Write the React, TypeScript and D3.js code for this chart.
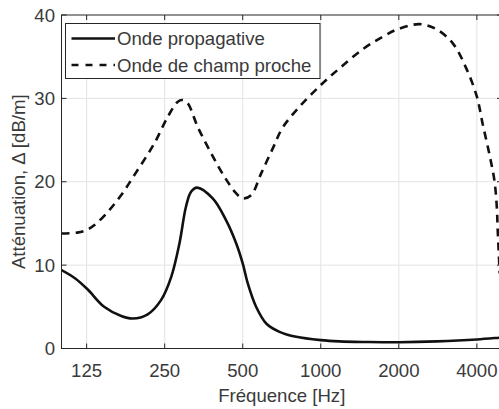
import React from "react";
import * as d3 from "d3";

const xTicks = [125, 250, 500, 1000, 2000, 4000];
const yTicks = [0, 10, 20, 30, 40];

const propFreq = [100, 113, 126, 146, 170, 188, 215, 242, 265, 285, 302, 316, 333, 383, 431, 472, 500, 523, 563, 616, 693, 804, 1000, 1181, 1500, 2000, 2800, 4000, 4900, 5000];
const propVal = [9.4, 8.4, 7.1, 5.0, 3.9, 3.6, 4.1, 5.8, 8.6, 12.6, 17.0, 18.8, 19.3, 18.0, 15.4, 12.6, 10.2, 7.8, 5.0, 3.0, 2.0, 1.4, 1.0, 0.85, 0.78, 0.75, 0.85, 1.08, 1.3, 1.32];

const nearFreq = [100, 115, 125, 134, 151, 170, 191, 228, 257, 281, 293, 307, 335, 378, 425, 472, 500, 539, 589, 653, 713, 828, 1000, 1181, 1452, 1735, 1983, 2404, 2789, 3231, 3640, 4000, 4220, 4478, 4681, 4778, 4810, 4900];
const nearVal = [13.8, 13.9, 14.2, 14.8, 16.4, 18.4, 20.8, 24.6, 27.8, 29.6, 29.8, 29.4, 26.6, 23.4, 20.6, 18.6, 18.0, 18.4, 21.0, 24.0, 26.5, 29.0, 31.6, 33.6, 35.9, 37.4, 38.3, 38.9, 38.3, 36.6, 33.6, 30.2, 26.8, 23.2, 20.0, 16.8, 14.4, 9];

const seriesNames = ["Onde propagative", "Onde de champ proche"];

const W = 499, H = 409;
const L = 61.5, R = 502, T = 15, B = 348.5;
const AX = "#262626";
const TXT = "#3a3a3a";
const FONT = "'Liberation Sans', Arial, Helvetica, sans-serif";
const FS = 18.6;

export default function App() {
  const x = d3.scaleLog().domain([100, 5000]).range([L, R]);
  const y = d3.scaleLinear().domain([0, 40]).range([B, T]);
  const line = d3.line<[number, number]>()
    .x(d => x(d[0]))
    .y(d => y(d[1]))
    .curve(d3.curveCatmullRom.alpha(0.5));
  const propPath = line(propFreq.map((f, i) => [f, propVal[i]] as [number, number])) || "";
  const nearPath = line(nearFreq.map((f, i) => [f, nearVal[i]] as [number, number])) || "";
  const tl = 5;

  return (
    <svg width={W} height={H} style={{ position: "absolute", left: 0, top: 0, display: "block", background: "#fff" }} fontFamily={FONT}>
      <defs>
        <clipPath id="plot">
          <rect x={L} y={T} width={R - L} height={B - T} />
        </clipPath>
      </defs>
      <rect x={0} y={0} width={W} height={H} fill="#fff" />
      <g stroke="#e3e3e3" strokeWidth={1}>
        {xTicks.map(t => (
          <line key={"gx" + t} x1={x(t)} x2={x(t)} y1={T} y2={B} />
        ))}
        {yTicks.filter(t => t > 0 && t < 40).map(t => (
          <line key={"gy" + t} x1={L} x2={R} y1={y(t)} y2={y(t)} />
        ))}
      </g>
      <g clipPath="url(#plot)" fill="none" stroke="#111" strokeWidth={2.6} strokeLinejoin="round">
        <path d={propPath} />
        <path d={nearPath} strokeDasharray="8,6" />
      </g>
      <g stroke={AX} strokeWidth={1} fill="none">
        <rect x={L} y={T} width={R - L} height={B - T} />
        {xTicks.map(t => (
          <g key={"tx" + t}>
            <line x1={x(t)} x2={x(t)} y1={B} y2={B - tl} />
            <line x1={x(t)} x2={x(t)} y1={T} y2={T + tl} />
          </g>
        ))}
        {yTicks.map(t => (
          <g key={"ty" + t}>
            <line x1={L} x2={L + tl} y1={y(t)} y2={y(t)} />
            <line x1={R} x2={R - tl} y1={y(t)} y2={y(t)} />
          </g>
        ))}
      </g>
      <g fill={TXT} fontSize={FS}>
        {xTicks.map(t => (
          <text key={"lx" + t} x={x(t)} y={376.5} textAnchor="middle">{t}</text>
        ))}
        {yTicks.map(t => (
          <text key={"ly" + t} x={55} y={y(t) + 6.5} textAnchor="end">{t}</text>
        ))}
        <text x={(L + R) / 2} y={401.5} textAnchor="middle">Fréquence [Hz]</text>
        <text transform={`translate(${24.5},${(T + B) / 2}) rotate(-90)`} textAnchor="middle">Atténuation, Δ [dB/m]</text>
      </g>
      <g>
        <rect x={65.5} y={23.5} width={254.5} height={55} fill="#fff" stroke={AX} strokeWidth={1} />
        <line x1={71.5} x2={115} y1={38.5} y2={38.5} stroke="#111" strokeWidth={2.6} />
        <line x1={71.5} x2={115} y1={65} y2={65} stroke="#111" strokeWidth={2.6} strokeDasharray="7,7" />
        <text x={117} y={38.5 + 6.6} fontSize={FS} fill={TXT}>{seriesNames[0]}</text>
        <text x={117} y={65 + 6.6} fontSize={FS} fill={TXT}>{seriesNames[1]}</text>
      </g>
    </svg>
  );
}
